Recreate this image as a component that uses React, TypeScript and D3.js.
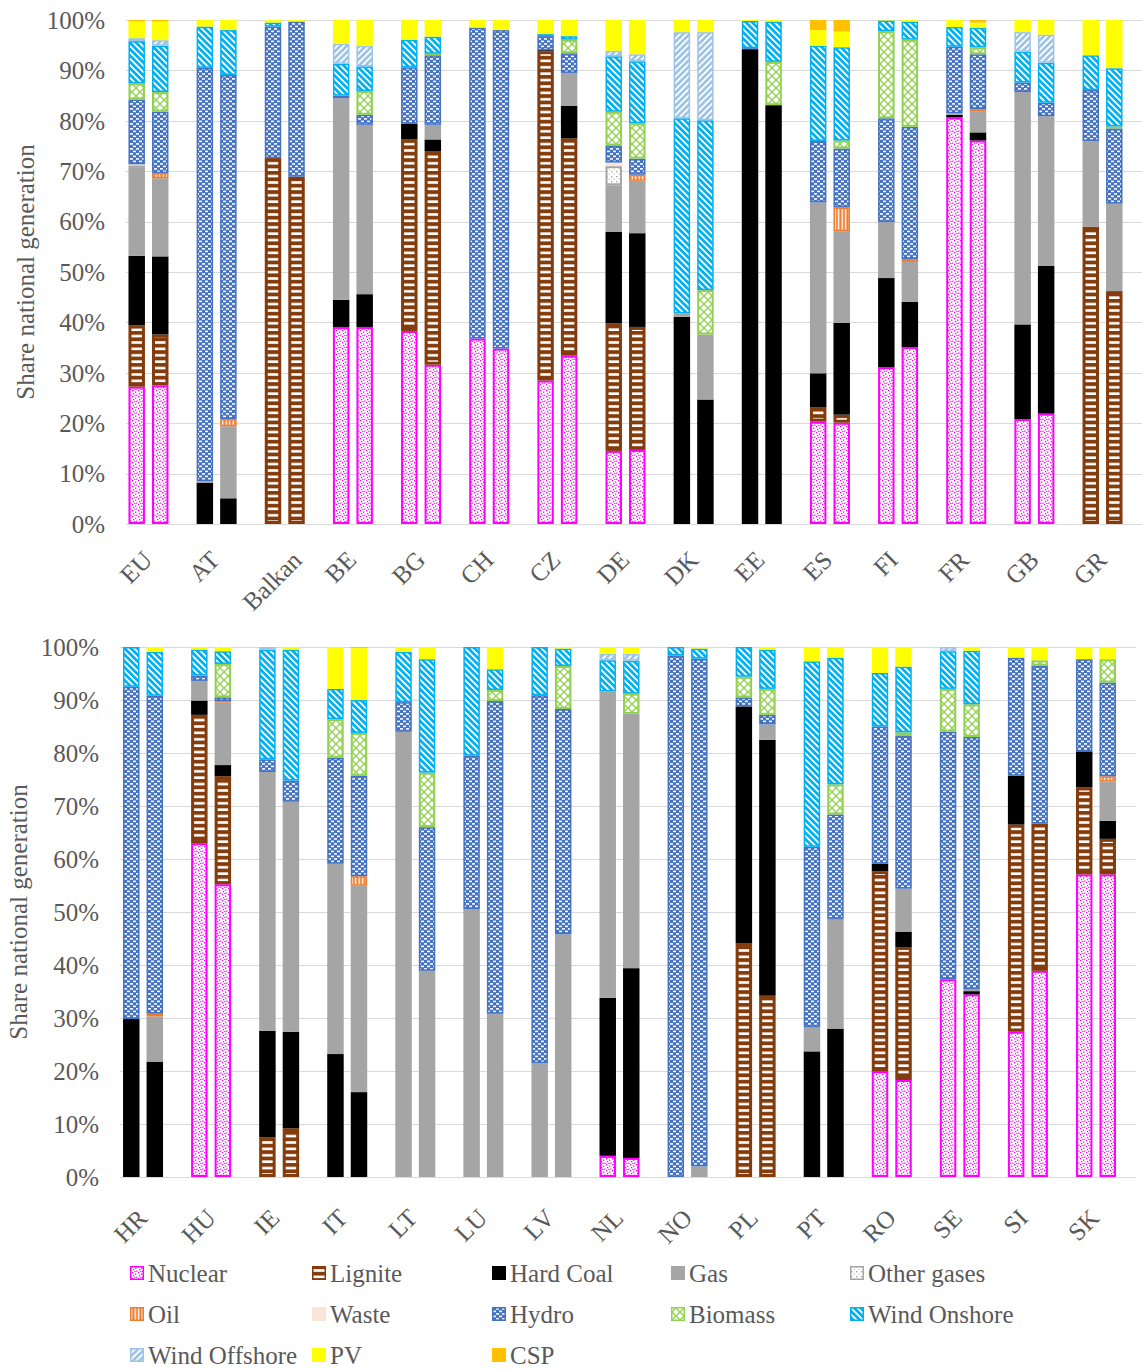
import React, { useEffect, useRef } from "react";
import * as d3 from "d3";

// Countries per panel, two scenario bars each
const topCountries = ["EU", "AT", "Balkan", "BE", "BG", "CH", "CZ", "DE", "DK", "EE", "ES", "FI", "FR", "GB", "GR"];
const bottomCountries = ["HR", "HU", "IE", "IT", "LT", "LU", "LV", "NL", "NO", "PL", "PT", "RO", "SE", "SI", "SK"];
const scenarios = ["a", "b"];

const techs = [
  "Nuclear", "Lignite", "Hard Coal", "Gas", "Other gases", "Oil", "Waste",
  "Hydro", "Biomass", "Wind Onshore", "Wind Offshore", "PV", "CSP",
];

const yTicks = [0, 0.1, 0.2, 0.3, 0.4, 0.5, 0.6, 0.7, 0.8, 0.9, 1];

// Shares (%) per bar: first 30 = top panel, last 30 = bottom panel (2 bars per country)
const nuclear = [
  27.3, 27.5, 0, 0, 0, 0, 39.1, 39.1, 38.3, 31.6, 36.8, 34.8, 28.5, 33.4, 14.5, 14.7, 0, 0, 0, 0, 20.3, 20.1, 31.1, 35.1, 80.7, 76.1, 20.8, 21.9, 0, 0,
  0, 0, 63.0, 55.3, 0, 0, 0, 0, 0, 0, 0, 0, 0, 0, 4.0, 3.6, 0, 0, 0, 0, 0, 0, 20.0, 18.3, 37.3, 34.5, 27.4, 38.9, 57.1, 57.1,
];
const lignite = [
  12.2, 10.1, 0, 0, 72.6, 68.9, 0, 0, 38.0, 42.4, 0, 0, 65.4, 43.1, 25.3, 24.4, 0, 0, 0, 0, 2.9, 1.6, 0, 0, 0, 0, 0, 0, 59.0, 46.4,
  0, 0, 24.2, 20.4, 7.5, 9.2, 0, 0, 0, 0, 0, 0, 0, 0, 0, 0, 0, 0, 44.1, 34.2, 0, 0, 37.7, 25.1, 0, 0, 39.1, 27.8, 16.4, 6.7,
];
const hardCoal = [
  13.8, 15.5, 8.2, 5.1, 0, 0, 5.4, 6.5, 3.1, 2.3, 0, 0, 0.2, 6.5, 18.2, 18.6, 41.1, 24.7, 94.4, 83.1, 6.7, 18.2, 17.7, 9.0, 0.5, 1.6, 18.8, 29.3, 0, 0,
  29.8, 21.7, 2.7, 2.1, 20.1, 18.2, 23.2, 16.0, 0, 0, 0, 0, 0, 0, 29.8, 35.8, 0, 0, 44.6, 48.3, 23.7, 28.0, 1.4, 2.9, 0, 0.6, 9.2, 0, 6.8, 3.4,
];
const gas = [
  17.5, 15.5, 0.3, 14.3, 0, 0, 40.0, 33.4, 0, 2.9, 0, 0, 0, 6.5, 9.2, 10.4, 0.7, 12.9, 0, 0, 33.9, 18.2, 11.1, 7.9, 0.3, 4.1, 46.1, 29.7, 17.0, 17.4,
  0, 8.6, 3.7, 11.8, 48.8, 43.4, 35.9, 38.9, 84.0, 38.9, 50.5, 30.8, 21.5, 45.8, 57.8, 48.0, 0, 2.0, 0, 2.9, 4.6, 20.5, 0, 8.1, 0, 0.3, 0, 0, 0, 7.4,
];
const otherGases = [
  0.5, 0, 0, 0, 0, 0, 0, 0, 0, 0, 0, 0, 0, 0, 3.8, 0, 0, 0, 0, 0, 0, 0, 0, 0, 0, 0, 0, 0, 0, 0,
  0, 0, 0, 0, 0, 0, 0, 0, 0, 0, 0, 0, 0, 0, 0, 0, 0, 0, 0, 0, 0, 0, 0, 0, 0, 0, 0, 0, 0, 0,
];
const oil = [
  0, 1.0, 0, 1.4, 0, 0, 0, 0.2, 0, 0, 0, 0, 0, 0, 0, 1.2, 0, 0, 0, 0, 0, 4.7, 0, 0.5, 0, 0.5, 0, 0, 0, 0,
  0, 0.5, 0, 0.3, 0, 0, 0, 1.8, 0, 0, 0, 0, 0, 0, 0, 0, 0, 0, 0, 0, 0, 0.2, 0, 0, 0, 0, 0, 0, 0, 1.0,
];
const waste = [
  0.2, 0, 0, 0, 0, 0, 0, 0, 0, 0, 0, 0, 0, 0, 0.7, 0, 0, 0, 0, 0, 0, 0, 0, 0, 0, 0, 0, 0, 0, 0,
  0, 0, 0, 0, 0, 0, 0, 0, 0, 0, 0, 0, 0, 0, 0, 0, 0, 0, 0, 0, 0, 0, 0, 0, 0, 0, 0, 0, 0, 0,
];
const hydro = [
  12.9, 12.2, 82.0, 68.3, 26.1, 30.8, 0.5, 2.0, 11.2, 13.8, 61.7, 63.2, 2.8, 3.9, 3.4, 3.2, 0, 0, 0.2, 0, 12.2, 11.7, 20.6, 26.3, 13.2, 10.9, 1.9, 2.7, 10.1, 15.0,
  62.7, 60.0, 1.0, 0.7, 2.4, 4.0, 20.0, 18.9, 5.6, 27.1, 29.0, 59.0, 69.4, 42.5, 0, 0, 98.4, 95.8, 1.7, 1.8, 34.0, 19.7, 25.9, 28.8, 46.7, 47.7, 22.3, 29.8, 17.4, 17.7,
];
const biomass = [
  3.2, 3.9, 0, 0, 0, 0, 0, 4.7, 0, 0.3, 0, 0, 0, 2.7, 6.7, 7.0, 0, 8.8, 0, 8.6, 0, 1.6, 17.3, 17.3, 0, 1.4, 0, 0, 0, 0.4,
  0, 0, 0, 6.3, 0, 0, 7.3, 8.1, 0, 10.3, 0, 2.1, 0, 8.1, 0, 3.8, 0, 0, 3.9, 4.9, 0, 5.7, 0, 0.7, 8.1, 6.2, 0, 1.0, 0, 4.4,
];
const windOnshore = [
  8.4, 9.2, 8.2, 8.9, 0.8, 0, 6.3, 4.9, 5.5, 3.4, 0, 0, 0.4, 0.7, 11.0, 12.3, 38.7, 33.7, 5.4, 8.0, 18.9, 18.5, 2.1, 3.6, 3.9, 3.9, 6.1, 7.9, 6.9, 11.6,
  7.5, 8.3, 4.9, 2.4, 20.7, 24.7, 5.7, 6.2, 9.5, 21.4, 20.5, 3.9, 9.1, 3.3, 5.9, 6.2, 1.6, 1.9, 5.6, 7.4, 35.0, 23.9, 10.1, 12.4, 7.1, 10.1, 0, 0, 0, 0,
];
const windOffshore = [
  0.6, 1.1, 0, 0, 0, 0, 4.0, 4.1, 0, 0, 0, 0, 0, 0, 1.1, 1.4, 17.1, 17.5, 0, 0, 0, 0, 0, 0, 0, 0, 3.9, 5.6, 0, 0,
  0, 0, 0, 0, 0.5, 0, 0, 0, 0, 0, 0, 0, 0, 0, 1.2, 1.3, 0, 0, 0, 0, 0, 0, 0, 0, 0.8, 0, 0, 0, 0, 0,
];
const pv = [
  3.3, 3.7, 1.3, 2.0, 0.5, 0.3, 4.7, 5.1, 3.9, 3.3, 1.5, 2.0, 2.8, 3.2, 6.1, 6.8, 2.4, 2.4, 0.2, 0.3, 3.1, 3.1, 0.1, 0.3, 1.4, 1.0, 2.4, 2.9, 7.0, 9.6,
  0, 0.9, 0.5, 0.8, 0, 0.5, 7.9, 9.8, 0.9, 2.3, 0, 4.2, 0, 0.3, 1.3, 1.3, 0, 0.3, 0, 0.5, 2.7, 2.0, 4.9, 3.7, 0, 0.7, 2.0, 2.5, 2.3, 2.3,
];
const csp = [
  0.3, 0.3, 0, 0, 0, 0, 0, 0, 0, 0, 0, 0, 0, 0, 0, 0, 0, 0, 0, 0, 2.0, 2.3, 0, 0, 0, 0.5, 0, 0, 0, 0,
  0, 0, 0, 0, 0, 0, 0, 0.2, 0, 0, 0, 0, 0, 0, 0, 0, 0, 0, 0, 0, 0, 0, 0, 0, 0, 0, 0, 0, 0, 0,
];

const techValues = [nuclear, lignite, hardCoal, gas, otherGases, oil, waste, hydro, biomass, windOnshore, windOffshore, pv, csp];

// fill = solid colour or pattern id, stroke = border colour (null = none)
const techStyle: { fill: string; stroke: string | null; sw: number }[] = [
  { fill: "url(#p-nuclear)", stroke: "#FF00FF", sw: 2 },
  { fill: "url(#p-lignite)", stroke: "#843C0C", sw: 3 },
  { fill: "#000000", stroke: null, sw: 0 },
  { fill: "#A5A5A5", stroke: null, sw: 0 },
  { fill: "url(#p-other)", stroke: "#A5A5A5", sw: 2 },
  { fill: "url(#p-oil)", stroke: "#ED7D31", sw: 1.5 },
  { fill: "#FBE5D6", stroke: null, sw: 0 },
  { fill: "url(#p-hydro)", stroke: "#4472C4", sw: 1.5 },
  { fill: "url(#p-biomass)", stroke: "#92D050", sw: 2 },
  { fill: "url(#p-windon)", stroke: "#00B0F0", sw: 1.5 },
  { fill: "url(#p-windoff)", stroke: "#9DC3E6", sw: 1.5 },
  { fill: "#FFFF00", stroke: null, sw: 0 },
  { fill: "#FFC000", stroke: null, sw: 0 },
];

const W = 1142;
const H = 1370;
const FONT = "'Liberation Serif', 'Times New Roman', serif";
const TXT = "#595959";

const panels = [
  { countries: topCountries, start: 0, x0: 114.4, x1: 1136.6, yBottom: 524, yTop: 20, gridX0: 126, gridX1: 1142, tickX: 105, titleX: 25, labelTop: 546 },
  { countries: bottomCountries, start: 30, x0: 109, x1: 1130, yBottom: 1177, yTop: 647, gridX0: 120, gridX1: 1136, tickX: 99, titleX: 18, labelTop: 1204 },
];

const App: React.FC = () => {
  const svgRef = useRef<SVGSVGElement>(null);

  useEffect(() => {
    if (!svgRef.current) return;
    const svg = d3.select(svgRef.current);
    svg.selectAll("*").remove();

    // ---- patterns
    const defs = svg.append("defs");
    const pat = (id: string, w: number, h: number, bg: string, transform?: string) => {
      const p = defs
        .append("pattern")
        .attr("id", id)
        .attr("patternUnits", "userSpaceOnUse")
        .attr("width", w)
        .attr("height", h);
      if (transform) p.attr("patternTransform", transform);
      p.append("rect").attr("width", w).attr("height", h).attr("fill", bg);
      return p;
    };

    const pn = pat("p-nuclear", 6, 6, "#FFFFFF");
    [[0, 0], [3, 1.5], [1, 3], [4.2, 4.5], [2.2, 5]].forEach(([x, y]) =>
      pn.append("rect").attr("x", x).attr("y", y).attr("width", 1.3).attr("height", 1.3).attr("fill", "#FF00FF")
    );

    const pl = pat("p-lignite", 4, 6.4, "#843C0C");
    pl.append("rect").attr("x", 0).attr("y", 2).attr("width", 4).attr("height", 2.6).attr("fill", "#FFFFFF");

    const po = pat("p-other", 5, 5, "#FFFFFF");
    po.append("rect").attr("x", 1).attr("y", 1).attr("width", 1.4).attr("height", 1.4).attr("fill", "#A5A5A5");
    po.append("rect").attr("x", 3.5).attr("y", 3.5).attr("width", 1.2).attr("height", 1.2).attr("fill", "#BFBFBF");

    const poil = pat("p-oil", 3.5, 4, "#ED7D31");
    poil.append("rect").attr("x", 1.5).attr("y", 0).attr("width", 1.4).attr("height", 4).attr("fill", "#FFFFFF");

    const ph = pat("p-hydro", 6, 5, "#4472C4");
    ph.append("rect").attr("x", 1).attr("y", 0.6).attr("width", 3).attr("height", 1.6).attr("fill", "#FFFFFF");
    ph.append("rect").attr("x", 4).attr("y", 3.1).attr("width", 2).attr("height", 1.6).attr("fill", "#FFFFFF");
    ph.append("rect").attr("x", 0).attr("y", 3.1).attr("width", 1).attr("height", 1.6).attr("fill", "#FFFFFF");

    const pb = pat("p-biomass", 8, 8, "#FFFFFF");
    pb.append("path").attr("d", "M0,0L8,8M8,0L0,8").attr("stroke", "#92D050").attr("stroke-width", 1.3).attr("fill", "none");

    const pw = pat("p-windon", 4.5, 4.5, "#00B0F0", "rotate(-45)");
    pw.append("rect").attr("x", 0).attr("y", 0).attr("width", 1.8).attr("height", 4.5).attr("fill", "#FFFFFF");

    const pwo = pat("p-windoff", 4.5, 4.5, "#9DC3E6", "rotate(45)");
    pwo.append("rect").attr("x", 0).attr("y", 0).attr("width", 1.8).attr("height", 4.5).attr("fill", "#FFFFFF");

    // ---- stacked data rows (normalised to 100 %)
    const keys = techs.map((_, k) => `k${k}`);
    const rows = nuclear.map((_, i) => {
      const r: Record<string, number> = {};
      techValues.forEach((arr, k) => (r[`k${k}`] = arr[i]));
      return r;
    });
    const series = d3.stack<Record<string, number>>().keys(keys).offset(d3.stackOffsetExpand)(rows);

    const segment = (
      g: d3.Selection<SVGGElement, unknown, null, undefined>,
      x: number, y: number, w: number, h: number, k: number
    ) => {
      const st = techStyle[k];
      if (!st.stroke) {
        g.append("rect").attr("x", x).attr("y", y).attr("width", w).attr("height", h).attr("fill", st.fill);
        return;
      }
      if (h <= st.sw * 1.6) {
        g.append("rect").attr("x", x).attr("y", y).attr("width", w).attr("height", h).attr("fill", st.stroke);
        return;
      }
      g.append("rect")
        .attr("x", x + st.sw / 2)
        .attr("y", y + st.sw / 2)
        .attr("width", w - st.sw)
        .attr("height", h - st.sw)
        .attr("fill", st.fill)
        .attr("stroke", st.stroke)
        .attr("stroke-width", st.sw);
    };

    panels.forEach((p) => {
      const g = svg.append("g");
      const x = d3.scaleBand<string>().domain(p.countries).range([p.x0, p.x1]).paddingInner(0).paddingOuter(0);
      const xInner = d3.scaleBand<string>().domain(scenarios).range([-20, 20]).paddingInner(0.3);
      const y = d3.scaleLinear().domain([0, 1]).range([p.yBottom, p.yTop]);

      // gridlines
      g.append("g")
        .selectAll("line")
        .data(yTicks)
        .join("line")
        .attr("x1", p.gridX0)
        .attr("x2", p.gridX1)
        .attr("y1", (d) => Math.round(y(d)) + 0.5)
        .attr("y2", (d) => Math.round(y(d)) + 0.5)
        .attr("stroke", "#D9D9D9")
        .attr("stroke-width", 1);

      // tick labels
      g.append("g")
        .selectAll("text")
        .data(yTicks)
        .join("text")
        .attr("x", p.tickX)
        .attr("y", (d) => y(d))
        .attr("dy", "0.35em")
        .attr("text-anchor", "end")
        .style("font-family", FONT)
        .style("font-size", "25px")
        .style("fill", TXT)
        .text((d) => d3.format(".0%")(d));

      // axis title
      g.append("text")
        .attr("transform", `translate(${p.titleX},${(p.yBottom + p.yTop) / 2}) rotate(-90)`)
        .attr("text-anchor", "middle")
        .attr("dy", "0.35em")
        .style("font-family", FONT)
        .style("font-size", "25px")
        .style("fill", TXT)
        .text("Share national generation");

      // bars
      const bars = g.append("g");
      p.countries.forEach((c, ci) => {
        scenarios.forEach((s, si) => {
          const i = p.start + ci * 2 + si;
          const bx = (x(c) as number) + x.bandwidth() / 2 + (xInner(s) as number);
          const bw = xInner.bandwidth();
          series.forEach((ser, k) => {
            const [v0, v1] = ser[i];
            const top = y(v1);
            const h = y(v0) - top;
            if (!(h > 0.1)) return;
            segment(bars as any, bx, top, bw, h, k);
          });
        });
      });

      // category labels rotated -45°
      p.countries.forEach((c) => {
        const cx = (x(c) as number) + x.bandwidth() / 2;
        const lg = g.append("g");
        lg.append("text")
          .attr("text-anchor", "end")
          .attr("transform", "rotate(-45)")
          .style("font-family", FONT)
          .style("font-size", "25px")
          .style("fill", TXT)
          .text(c);
        const bb = (lg.node() as SVGGElement).getBBox();
        const tx = cx - 12.5 - (bb.x + bb.width / 2);
        const ty = p.labelTop - bb.y;
        lg.attr("transform", `translate(${tx},${ty})`);
      });
    });

    // ---- legend
    const legX = [130, 312, 492, 671, 850];
    const legY = [1273, 1314, 1355];
    const leg = svg.append("g");
    techs.forEach((t, k) => {
      const col = k % 5;
      const row = Math.floor(k / 5);
      const lx = legX[col];
      const ly = legY[row];
      const st = techStyle[k];
      const item = leg.append("g");
      if (st.stroke) {
        item.append("rect")
          .attr("x", lx + 0.75)
          .attr("y", ly - 6.25)
          .attr("width", 12.5)
          .attr("height", 12.5)
          .attr("fill", st.fill)
          .attr("stroke", st.stroke)
          .attr("stroke-width", 1.5);
      } else {
        item.append("rect").attr("x", lx).attr("y", ly - 7).attr("width", 14).attr("height", 14).attr("fill", st.fill);
      }
      item.append("text")
        .attr("x", lx + 18)
        .attr("y", ly)
        .attr("dy", "0.35em")
        .style("font-family", FONT)
        .style("font-size", "25px")
        .style("fill", TXT)
        .text(t);
    });
  }, []);

  return (
    <svg
      ref={svgRef}
      width={W}
      height={H}
      viewBox={`0 0 ${W} ${H}`}
      style={{ position: "absolute", left: 0, top: 0, background: "#FFFFFF" }}
    />
  );
};

export default App;
